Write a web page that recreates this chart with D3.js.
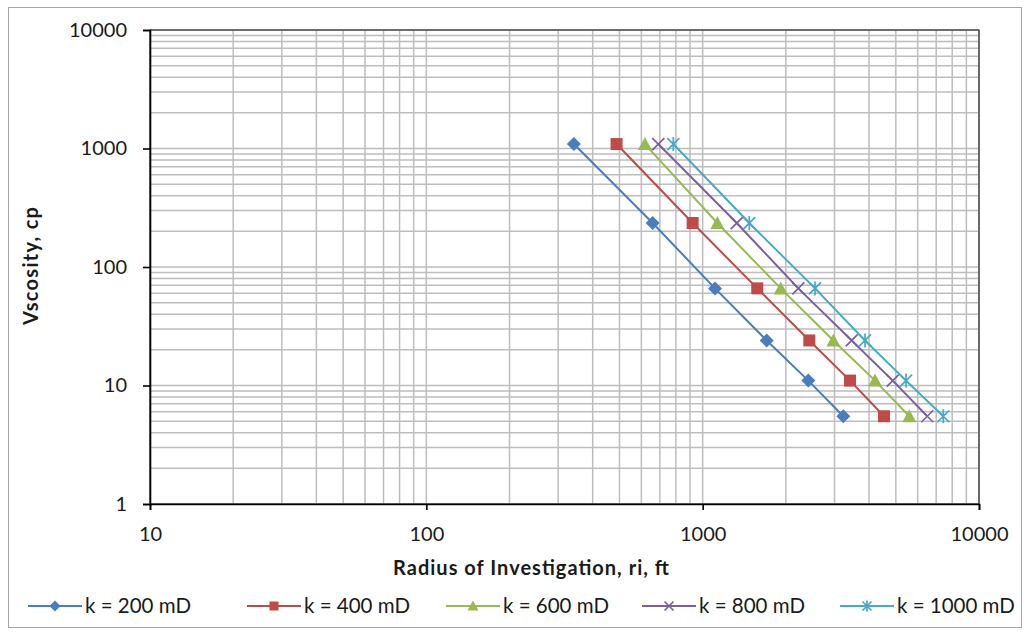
<!DOCTYPE html>
<html>
<head>
<meta charset="utf-8">
<script src="https://cdn.jsdelivr.net/npm/d3@7"></script>
<style>
  body { margin: 0; background: #fff; }
  svg { font-family: Lato, "Open Sans", sans-serif; }
</style>
</head>
<body>
<svg id="chart" width="1029" height="635"></svg>
<script>
// viscosity values (cp), shared by all series
const viscosity = [1090, 235, 66, 24, 11, 5.5];

// radius of investigation (ft) for each permeability
const ri200 = [342, 659, 1108, 1705, 2412, 3228];
const ri400 = [488, 920, 1576, 2432, 3414, 4532];
const ri600 = [618, 1130, 1916, 2971, 4205, 5595];
const ri800 = [691, 1328, 2219, 3462, 4873, 6500];
const ri1000 = [783, 1475, 2551, 3868, 5445, 7428];

const seriesNames = ["k = 200 mD", "k = 400 mD", "k = 600 mD", "k = 800 mD", "k = 1000 mD"];
const seriesColors = ["#4a7ebb", "#be4b48", "#98b954", "#7d60a0", "#46aac5"];
const seriesMarkers = ["diamond", "square", "triangle", "x", "star"];

const xTicks = [10, 100, 1000, 10000];
const yTicks = [1, 10, 100, 1000, 10000];

const svg = d3.select("#chart");

// outer frame
svg.append("rect")
    .attr("x", 8.5).attr("y", 7.5)
    .attr("width", 1013).attr("height", 620)
    .attr("fill", "#fff")
    .attr("stroke", "#a6a6a6");

const plotLeft = 150, plotRight = 979, plotTop = 30, plotBottom = 504;

const xScale = d3.scaleLog().domain([10, 10000]).range([plotLeft, plotRight]);
const yScale = d3.scaleLog().domain([1, 10000]).range([plotBottom, plotTop]);

// minor + major gridlines
const minor = d => d3.range(0, 4).flatMap(e => d3.range(1, 10).map(m => m * Math.pow(10, e + d)));
const xGrid = minor(1).concat([10000]);
const yGrid = minor(0).concat([10000]);

const grid = svg.append("g").attr("class", "grid");
grid.selectAll(".gx").data(xGrid).enter().append("line")
    .attr("x1", d => xScale(d)).attr("x2", d => xScale(d))
    .attr("y1", plotTop).attr("y2", plotBottom)
    .attr("stroke", "#bdbdbd").attr("stroke-width", 1.5);
grid.selectAll(".gy").data(yGrid).enter().append("line")
    .attr("x1", plotLeft).attr("x2", plotRight)
    .attr("y1", d => yScale(d)).attr("y2", d => yScale(d))
    .attr("stroke", "#bdbdbd").attr("stroke-width", 1.5);

// plot border
svg.append("rect")
    .attr("x", plotLeft).attr("y", plotTop)
    .attr("width", plotRight - plotLeft).attr("height", plotBottom - plotTop)
    .attr("fill", "none").attr("stroke", "#303030").attr("stroke-width", 1.2);

// axes
const xAxis = svg.append("g")
    .attr("transform", `translate(0,${plotBottom})`)
    .call(d3.axisBottom(xScale).tickValues(xTicks).tickFormat(d3.format("d")).tickSizeOuter(0).tickSize(6));
const yAxis = svg.append("g")
    .attr("transform", `translate(${plotLeft},0)`)
    .call(d3.axisLeft(yScale).tickValues(yTicks).tickFormat(d3.format("d")).tickSizeOuter(0).tickSize(7).tickPadding(16));

xAxis.selectAll(".tick text").attr("y", 37).attr("dy", 0);

[xAxis, yAxis].forEach(a => {
    a.select(".domain").attr("stroke", "#000").attr("stroke-width", 1.6);
    a.selectAll(".tick line").attr("stroke", "#000").attr("stroke-width", 1.6);
    a.selectAll(".tick text").attr("font-size", 20).attr("fill", "#1a1a1a")
        .attr("font-family", "Lato, sans-serif");
});

// axis titles
svg.append("text")
    .attr("x", 531).attr("y", 575)
    .attr("text-anchor", "middle")
    .attr("font-size", 20).attr("font-weight", "bold").attr("fill", "#1a1a1a")
    .attr("textLength", 276).attr("lengthAdjust", "spacing")
    .text("Radius of Investigation, ri, ft");
svg.append("text")
    .attr("transform", "translate(38,266) rotate(-90)")
    .attr("text-anchor", "middle")
    .attr("font-size", 20).attr("font-weight", "bold").attr("fill", "#1a1a1a")
    .attr("textLength", 118).attr("lengthAdjust", "spacing")
    .text("Vscosity, cp");

// marker drawing
function drawMarker(g, type, color, size) {
    const s = size / 2;
    if (type === "diamond") {
        g.append("path").attr("d", `M0,${-s - 1}L${s + 1},0L0,${s + 1}L${-s - 1},0Z`).attr("fill", color);
    } else if (type === "square") {
        g.append("rect").attr("x", -s).attr("y", -s).attr("width", size).attr("height", size).attr("fill", color);
    } else if (type === "triangle") {
        g.append("path").attr("d", `M0,${-s - 1}L${s + 1},${s}L${-s - 1},${s}Z`).attr("fill", color);
    } else if (type === "x") {
        g.append("path").attr("d", `M${-s},${-s}L${s},${s}M${s},${-s}L${-s},${s}`)
            .attr("stroke", color).attr("stroke-width", 1.7);
    } else {
        g.append("path").attr("d", `M${-s},${-s}L${s},${s}M${s},${-s}L${-s},${s}M0,${-s - 1}L0,${s + 1}`)
            .attr("stroke", color).attr("stroke-width", 1.7);
    }
}

const allRi = [ri200, ri400, ri600, ri800, ri1000];
const series = allRi.map((ri, i) => ({
    name: seriesNames[i],
    color: seriesColors[i],
    marker: seriesMarkers[i],
    points: ri.map((r, j) => ({ x: r, y: viscosity[j] }))
}));

const line = d3.line().x(d => xScale(d.x)).y(d => yScale(d.y));

const plot = svg.append("g");
series.forEach(s => {
    plot.append("path")
        .datum(s.points)
        .attr("d", line)
        .attr("fill", "none")
        .attr("stroke", s.color)
        .attr("stroke-width", 2);
    s.points.forEach(p => {
        const g = plot.append("g").attr("transform", `translate(${xScale(p.x)},${yScale(p.y)})`);
        drawMarker(g, s.marker, s.color, 12);
    });
});

// legend
const legendX = [28, 247, 446, 642, 840];
const legend = svg.append("g").attr("transform", "translate(0,606)");
series.forEach((s, i) => {
    const g = legend.append("g").attr("transform", `translate(${legendX[i]},0)`);
    g.append("line").attr("x1", 0).attr("x2", 54).attr("y1", 0).attr("y2", 0)
        .attr("stroke", s.color).attr("stroke-width", 2);
    const m = g.append("g").attr("transform", "translate(27,0)");
    drawMarker(m, s.marker, s.color, 9);
    g.append("text").attr("x", 57).attr("y", 7)
        .attr("font-size", 20.5).attr("fill", "#1a1a1a")
        .text(s.name);
});
</script>
</body>
</html>
